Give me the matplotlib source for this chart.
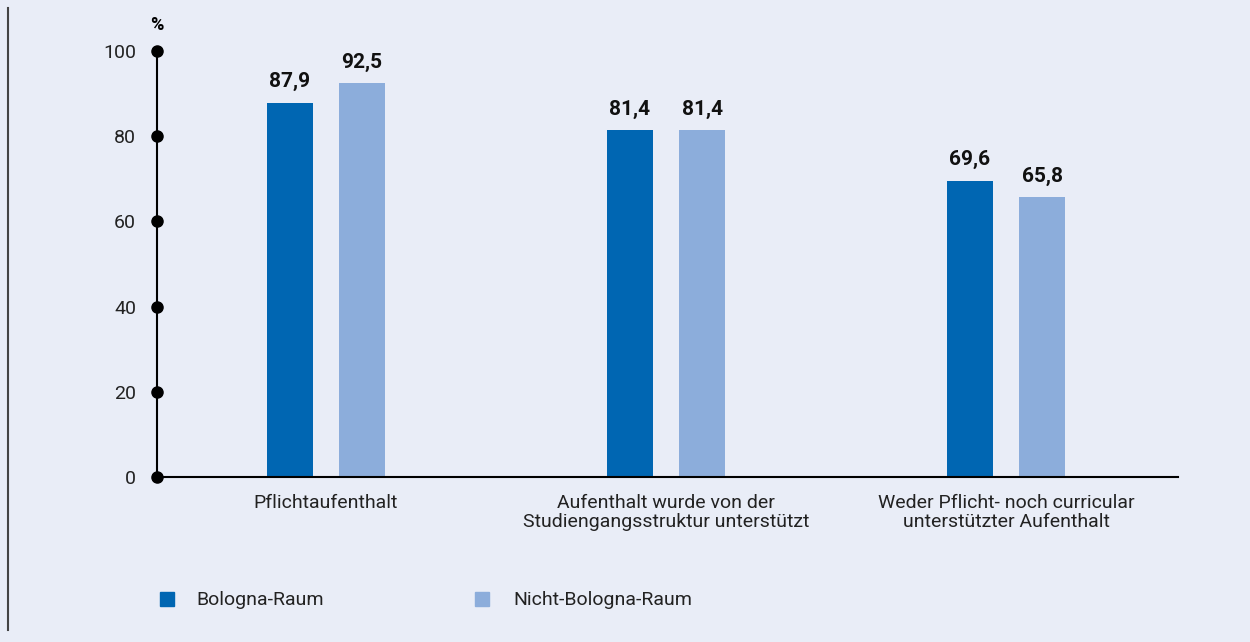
import matplotlib
matplotlib.use("Agg")
import matplotlib.pyplot as plt
from matplotlib.lines import Line2D
from matplotlib.patches import Rectangle

categories = ["Pflichtaufenthalt",
              "Aufenthalt wurde von der\nStudiengangsstruktur unterstützt",
              "Weder Pflicht- noch curricular\nunterstützter Aufenthalt"]
series_names = ["Bologna-Raum", "Nicht-Bologna-Raum"]
bologna = [87.9, 81.4, 69.6]
nicht_bologna = [92.5, 81.4, 65.8]
yticks = [0, 20, 40, 60, 80, 100]

bg = "#E9EDF7"
c1 = "#0066B2"
c2 = "#8CADDB"
plt.rcParams['font.family'] = ['Roboto', 'DejaVu Sans']

W, H = 1250, 642
fig = plt.figure(figsize=(W/100, H/100), dpi=100, facecolor=bg)
ax = fig.add_axes([157/W, 1-477/H, (1178-157)/W, (477-51)/H])
ax.set_facecolor(bg)

xs = list(range(len(categories)))
bw = 0.135
off = 0.106
b1 = ax.bar([x - off for x in xs], bologna, bw, color=c1)
b2 = ax.bar([x + off for x in xs], nicht_bologna, bw, color=c2)
for bars, vals in ((b1, bologna), (b2, nicht_bologna)):
    for r, v in zip(bars, vals):
        ax.text(r.get_x() + r.get_width()/2, v + 2.6, f"{v:.1f}".replace(".", ","),
                ha="center", va="bottom", fontsize=15, fontweight="bold", color="#111111")

ax.set_xlim(-0.497, 2.506)
ax.set_ylim(0, 100)
for s in ("top", "right"):
    ax.spines[s].set_visible(False)
ax.spines["left"].set_linewidth(1.5)
ax.spines["bottom"].set_linewidth(1.5)
ax.set_yticks(yticks)
ax.set_yticklabels([str(t) for t in yticks], fontsize=14, color="#222222")
ax.tick_params(axis="y", length=0, pad=15)
ax.plot([-0.497]*len(yticks), yticks, "o", color="black", ms=8, clip_on=False, zorder=5)
ax.set_xticks(xs)
ax.set_xticklabels(categories, fontsize=14, color="#222222", linespacing=1.1)
ax.tick_params(axis="x", length=0, pad=12)
ax.text(-0.497, 104, "%", ha="center", va="bottom", fontsize=13, fontweight="bold")

# legend
for i, (name, col) in enumerate(zip(series_names, (c1, c2))):
    x0 = [160, 475][i]
    xt = [196, 513][i]
    fig.patches.append(Rectangle((x0/W, 1-606/H), 14/W, 14/H, transform=fig.transFigure,
                                 color=col))
    fig.text(xt/W, 1-600/H, name, ha="left", va="center", fontsize=14, color="#222222")

fig.lines.append(Line2D([7.5/W, 7.5/W], [1-8/H, 1-630/H], transform=fig.transFigure,
                        color="#444444", lw=1.5))

fig.savefig("out.png", dpi=100, facecolor=bg)
